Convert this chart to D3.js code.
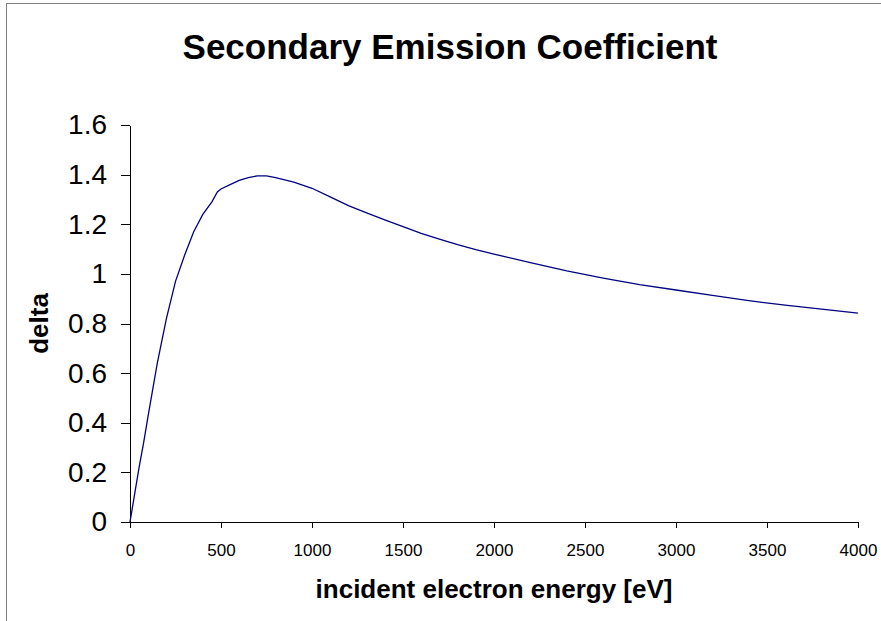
<!DOCTYPE html>
<html>
<head>
<meta charset="utf-8">
<script src="https://cdn.jsdelivr.net/npm/d3@7"></script>
<style>
  body { margin: 0; background: #fff; }
  svg { display: block; font-family: "Liberation Sans", Arial, sans-serif; }
</style>
</head>
<body>
<svg width="881" height="621"></svg>
<script>
// incident energy [eV] and secondary emission coefficient
var energy = [0, 25, 50, 75, 100, 150, 200, 250, 300, 350, 400, 450, 480, 500, 550, 600, 650, 700, 750, 800,
  900, 1000, 1100, 1200, 1300, 1400, 1500, 1600, 1700, 1800, 1900, 2000, 2200, 2400, 2600, 2800,
  3000, 3200, 3400, 3600, 3800, 4000];
var delta = [0, 0.11, 0.22, 0.32, 0.43, 0.64, 0.82, 0.97, 1.075, 1.17, 1.24, 1.29, 1.33, 1.342, 1.36, 1.377, 1.388, 1.395, 1.395, 1.388,
  1.37, 1.345, 1.31, 1.275, 1.246, 1.218, 1.19, 1.163, 1.14, 1.118, 1.098, 1.08, 1.045, 1.012, 0.983, 0.957,
  0.935, 0.913, 0.892, 0.874, 0.858, 0.842];
var xTicks = [0, 500, 1000, 1500, 2000, 2500, 3000, 3500, 4000];
var yTicks = [0, 0.2, 0.4, 0.6, 0.8, 1, 1.2, 1.4, 1.6];

var svg = d3.select("svg");

// chart area border (only left and top show in the frame)
svg.append("rect")
  .attr("x", 6.5).attr("y", 3.5)
  .attr("width", 1000).attr("height", 1000)
  .attr("fill", "none")
  .attr("stroke", "#808080");

var margin = { left: 130, top: 125, right: 858, bottom: 522 };

var x = d3.scaleLinear().domain([0, 4000]).range([margin.left, margin.right]);
var y = d3.scaleLinear().domain([0, 1.6]).range([margin.bottom, margin.top]);

// title
svg.append("text")
  .attr("x", 450).attr("y", 59)
  .attr("text-anchor", "middle")
  .style("font-size", "35px").style("font-weight", "bold")
  .text("Secondary Emission Coefficient");

// y axis
var yAxis = d3.axisLeft(y).tickValues(yTicks).tickSize(9).tickSizeOuter(0).tickPadding(14)
  .tickFormat(function(d) { return String(+d.toFixed(1)); });
var yGroup = svg.append("g")
  .attr("transform", "translate(" + margin.left + ",0)")
  .call(yAxis);
yGroup.selectAll("text").style("font-size", "28px").attr("fill", "#000");

// x axis
var xAxis = d3.axisBottom(x).tickValues(xTicks).tickSize(6).tickSizeOuter(0).tickPadding(16)
  .tickFormat(d3.format("d"));
var xGroup = svg.append("g")
  .attr("transform", "translate(0," + margin.bottom + ")")
  .call(xAxis);
xGroup.selectAll("text").style("font-size", "17px").attr("fill", "#000");

svg.selectAll(".domain, .tick line").attr("stroke", "#000").attr("shape-rendering", "crispEdges");

// axis titles
svg.append("text")
  .attr("x", (margin.left + margin.right) / 2).attr("y", 598)
  .attr("text-anchor", "middle")
  .style("font-size", "26px").style("font-weight", "bold")
  .text("incident electron energy [eV]");

svg.append("text")
  .attr("transform", "translate(48," + (margin.top + margin.bottom) / 2 + ") rotate(-90)")
  .attr("text-anchor", "middle")
  .style("font-size", "26px").style("font-weight", "bold")
  .text("delta");

// the curve
var line = d3.line()
  .x(function(d, i) { return x(energy[i]); })
  .y(function(d) { return y(d); });

svg.append("path")
  .datum(delta)
  .attr("d", line)
  .attr("fill", "none")
  .attr("stroke", "#000080")
  .attr("stroke-width", 1.3);
</script>
</body>
</html>
